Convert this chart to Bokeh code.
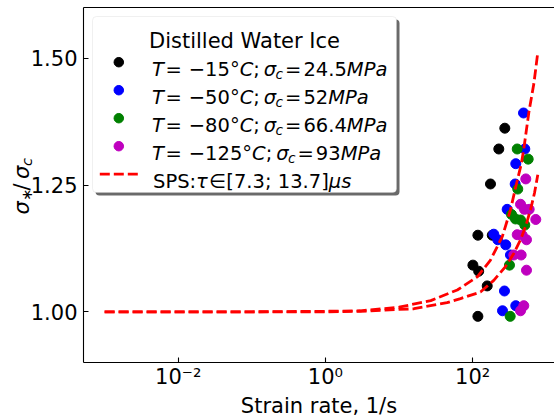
import math
from bokeh.plotting import figure
from bokeh.models import (Range1d, FixedTicker, CustomJSTickFormatter, Label,
                          BoxAnnotation, PrintfTickFormatter, LogAxis)
from bokeh.embed import file_html
from bokeh.resources import INLINE

# ---------------- data ----------------
t15_x = [274, 227, 175, 118, 185, 101, 121, 158, 118]
t15_y = [1.362, 1.321, 1.252, 1.151, 1.151, 1.092, 1.080, 1.051, 0.991]

t50_x = [492, 512, 386, 379, 295, 194, 220, 282, 327, 271, 386, 255]
t50_y = [1.392, 1.321, 1.292, 1.252, 1.202, 1.153, 1.142, 1.132, 1.112, 1.041, 1.012, 1.002]

t80_x = [404, 569, 411, 338, 383, 448, 512, 317, 324]
t80_y = [1.321, 1.301, 1.242, 1.192, 1.183, 1.181, 1.171, 1.092, 0.991]

t125_x = [528, 448, 507, 587, 722, 404, 472, 540, 363, 457, 540, 496, 448]
t125_y = [1.262, 1.212, 1.202, 1.202, 1.182, 1.152, 1.151, 1.142, 1.112, 1.112, 1.082, 1.012, 1.002]

sps_hi_x = [0.001, 0.01, 0.1, 1, 3, 10, 27, 62, 116, 175, 253, 327, 394, 458, 496, 581, 680, 762]
sps_hi_y = [1.000, 1.000, 1.000, 1.001, 1.002, 1.009, 1.022, 1.043, 1.069, 1.102, 1.148, 1.201,
            1.252, 1.291, 1.321, 1.393, 1.450, 1.507]

sps_lo_x = [0.001, 0.01, 0.1, 1, 3, 16, 45, 68.5, 128, 194, 280, 363, 448, 524, 612, 693, 769]
sps_lo_y = [1.000, 1.000, 1.000, 1.000, 1.001, 1.006, 1.018, 1.026, 1.039, 1.062, 1.089, 1.115,
            1.142, 1.168, 1.201, 1.234, 1.270]

x_ticks = [1e-2, 1e0, 1e2]
y_ticks = [1.00, 1.25, 1.50]

legend_title = "Distilled Water Ice"
temps = ["\u221215", "\u221250", "\u221280", "\u2212125"]
sigmas = ["24.5", "52", "66.4", "93"]
colors = ["#000000", "#0000ff", "#008000", "#bf00bf"]
x_label = "Strain rate, 1/s"

# ---------------- layout ----------------
FONT = "DejaVu Sans"
FS = 21          # ticks, axis labels, legend title
LFS = 19.5       # legend entries
SUB = 14.7
W, H = 554, 416
X0, X1 = 5.167e-4, 1.2967e3      # axis box limits
Y0, Y1 = 0.9, 1.6
PL, PR, PT, PB = 83, 554, 7, 362  # axis box in canvas pixels
LX0, LX1 = math.log10(X0), math.log10(X1)


def dx(px):
    return 10 ** (LX0 + (px - PL) / (PR - PL) * (LX1 - LX0))


def dy(py):
    return Y1 - (py - PT) / (PB - PT) * (Y1 - Y0)


p = figure(width=W, height=H, x_axis_type="log", output_backend="svg",
           toolbar_location=None, x_range=Range1d(dx(0), dx(W)),
           y_range=Range1d(dy(H), dy(0)),
           min_border_left=0, min_border_right=0, min_border_top=0, min_border_bottom=0)
p.outline_line_color = None
p.grid.visible = False
p.background_fill_color = "white"
p.border_fill_color = "white"

xa, ya = p.xaxis[0], p.yaxis[0]
xa.fixed_location = Y0
xa.bounds = (X0, X1)
ya.fixed_location = X0
ya.bounds = (Y0, Y1)
for ax in (xa, ya):
    ax.axis_line_color = "black"
    ax.axis_line_width = 1.1
    ax.major_tick_in = 5
    ax.major_tick_out = 0
    ax.minor_tick_in = 0
    ax.minor_tick_out = 0
    ax.major_tick_line_color = "black"
    ax.major_tick_line_width = 1.1
    ax.major_label_text_font = FONT
    ax.major_label_text_font_size = f"{FS}px"
    ax.major_label_text_color = "black"

xa.ticker = FixedTicker(ticks=x_ticks, minor_ticks=[])
xa.formatter = CustomJSTickFormatter(code="""
const e = Math.round(Math.log10(tick));
const sup = {"-":"\u207b","0":"\u2070","1":"\u00b9","2":"\u00b2","3":"\u00b3","4":"\u2074",
             "5":"\u2075","6":"\u2076","7":"\u2077","8":"\u2078","9":"\u2079"};
return "10" + String(e).split("").map(c => sup[c]).join("");
""")
xa.major_label_standoff = 2
xa.axis_label = x_label
xa.axis_label_text_font = FONT
xa.axis_label_text_font_size = f"{FS}px"
xa.axis_label_text_font_style = "normal"
xa.axis_label_text_color = "black"
xa.axis_label_standoff = 2

ya.ticker = FixedTicker(ticks=y_ticks, minor_ticks=[])
ya.formatter = PrintfTickFormatter(format="%.2f")
ya.major_label_standoff = 6

top = LogAxis(fixed_location=Y1, bounds=(X0, X1), ticker=FixedTicker(ticks=[], minor_ticks=[]),
              axis_line_color="black", axis_line_width=1.1, major_tick_in=0, major_tick_out=0,
              minor_tick_in=0, minor_tick_out=0)
p.add_layout(top, "above")


def put(txt, px, py, size=FS, style="normal", angle=0.0, align="left"):
    p.add_layout(Label(x=dx(px), y=dy(py), text=txt, text_font=FONT,
                       text_font_size=f"{size}px", text_font_style=style,
                       text_color="black", angle=angle, text_align=align,
                       text_baseline="alphabetic"))


ADV = {"T": .611, "=": .838, " ": .318, "\u2212": .838, "\u00b0": .5, "C": .698, ";": .337,
       "\u03c3": .602, "c": .55, ".": .318, "M": .863, "P": .603, "a": .613, "S": .635,
       ":": .337, "\u03c4": .523, "\u2208": .67, "[": .39, "]": .39, "\u03bc": .635, "s": .521}
for d in "0123456789":
    ADV[d] = .636


def wd(s, size):
    return sum(ADV.get(ch, .6) for ch in s) * size


# ---------------- data glyphs ----------------
for xs, ys, c in ((t15_x, t15_y, colors[0]), (t50_x, t50_y, colors[1]),
                  (t80_x, t80_y, colors[2]), (t125_x, t125_y, colors[3])):
    p.scatter(xs, ys, size=10, color=c)

for xs, ys in ((sps_hi_x, sps_hi_y), (sps_lo_x, sps_lo_y)):
    p.line(xs, ys, line_color="#ff0000", line_width=2.8, line_dash="10 4")

# ---------------- legend (drawn by hand) ----------------
p.add_layout(BoxAnnotation(left=dx(95), right=dx(399), top=dy(19), bottom=dy(195),
                           fill_color="#6a6a6a", fill_alpha=1, line_color=None,
                           border_radius=4, level="underlay"))
p.add_layout(BoxAnnotation(left=dx(92), right=dx(396), top=dy(16), bottom=dy(192),
                           fill_color="white", fill_alpha=1, line_color="#cccccc",
                           line_width=1, border_radius=4, level="underlay"))

put(legend_title, 244, 40, align="center")
row_c = [61.7, 89.7, 117.7, 145.7, 173.7]
LSUB = 13.7
for i in range(4):
    c = row_c[i]
    base = c + 7.1
    p.scatter([dx(118.3)], [dy(c)], size=9.5, color=colors[i])
    x = 151.5
    put("T", x, base, size=LFS, style="italic"); x += wd("T", LFS) + 1.5
    put("=", x, base, size=LFS); x += wd("=", LFS) + 7
    s = temps[i] + "\u00b0"
    put(s, x, base, size=LFS); x += wd(s, LFS)
    put("C", x, base, size=LFS, style="italic"); x += wd("C", LFS)
    put(";", x, base, size=LFS); x += wd(";", LFS) + 4
    put("\u03c3", x, base, size=LFS, style="italic"); x += wd("\u03c3", LFS)
    put("c", x, base + 4.2, size=LSUB, style="italic"); x += wd("c", LSUB) + 2
    put("=", x, base, size=LFS); x += wd("=", LFS) + 2
    put(sigmas[i], x, base, size=LFS); x += wd(sigmas[i], LFS)
    put("MPa", x, base, size=LFS, style="italic")

c = row_c[4]
base = c + 7.1
p.line([dx(99.3), dx(137.5)], [dy(c), dy(c)], line_color="#ff0000", line_width=2.8,
       line_dash="10 4")
x = 152.5
put("SPS:", x, base, size=LFS); x += wd("SPS:", LFS)
put("\u03c4", x, base, size=LFS, style="italic"); x += wd("\u03c4", LFS) + 3
put("\u2208", x, base, size=LFS); x += wd("\u2208", LFS) + 4
s = "[7.3; 13.7]"
put(s, x, base, size=LFS); x += wd(s, LFS)
put("\u03bcs", x, base, size=LFS, style="italic")

# ---------------- y axis label (by hand, for sub-scripts) ----------------
r = math.pi / 2
put("\u03c3", 21, 214, style="italic", angle=r)
put("\u2217", 25.5, 200.5, size=SUB, angle=r)
put("/", 21, 190, angle=r)
put("\u03c3", 21, 178.5, style="italic", angle=r)
put("c", 25.5, 165.5, size=SUB, style="italic", angle=r)

open("out.html", "w").write(file_html(p, INLINE))
